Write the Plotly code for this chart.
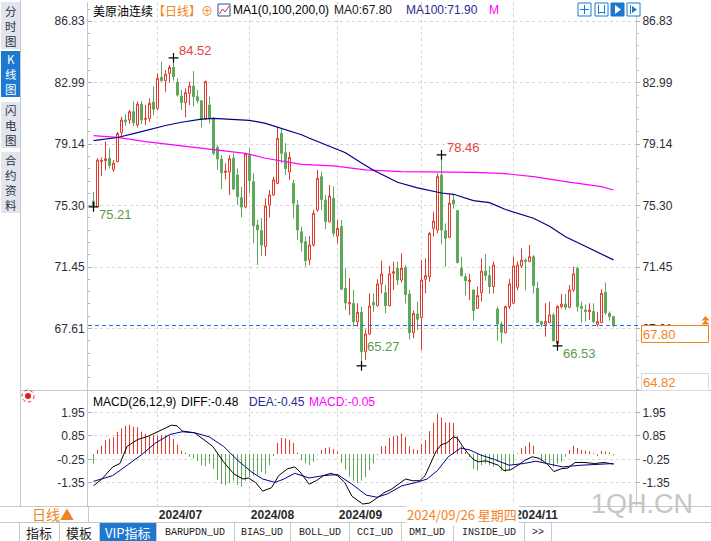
import plotly.graph_objects as go

W, H = 711, 541
def PX(x): return x / W
def PY(y): return 1 - y / H

# ---------------- data ----------------
opens = [75.58, 75.23, 78.05, 78.10, 78.25, 77.55, 78.04, 79.85, 80.64, 80.64,
         81.16, 80.33, 81.62, 80.68, 80.74, 81.77, 81.37, 83.31, 83.10, 83.56,
         83.93, 83.00, 82.14, 81.73, 82.31, 82.77, 82.10, 81.85, 80.74, 81.58,
         80.74, 78.93, 78.20, 77.37, 77.39, 78.25, 77.20, 75.80, 75.20, 78.45,
         76.79, 74.08, 73.73, 72.73, 75.33, 75.96, 76.68, 79.80, 78.60, 77.40,
         76.68, 75.33, 73.66, 73.04, 71.90, 72.83, 75.02, 77.10, 75.64, 74.29,
         75.75, 73.39, 73.98, 70.12, 69.15, 69.18, 68.04, 68.62, 66.16, 67.27,
         69.23, 69.04, 70.40, 69.85, 69.04, 71.06, 71.37, 70.64, 71.41, 69.77,
         67.35, 68.52, 68.29, 70.69, 70.85, 73.87, 73.77, 77.20, 73.73, 73.31,
         75.64, 74.98, 71.37, 70.85, 70.54, 70.02, 68.87, 69.85, 71.20, 70.92,
         70.23, 68.83, 67.89, 67.35, 68.98, 69.19, 70.19, 71.52, 71.89, 71.79,
         72.10, 70.12, 68.04, 67.87, 67.98, 68.46, 66.68, 68.98, 69.14, 68.94,
         70.02, 71.37, 68.98, 68.77, 68.67, 68.67, 67.87, 67.98, 69.87, 68.56,
         68.35]
highs = [76.16, 78.25, 78.30, 79.30, 78.87, 78.14, 79.90, 80.85, 81.00, 81.27,
         81.80, 81.80, 81.83, 81.58, 81.99, 82.73, 83.56, 84.29, 83.77, 84.08,
         84.52, 83.25, 82.52, 82.62, 83.04, 83.70, 82.52, 81.85, 83.10, 82.10,
         80.81, 79.08, 78.45, 77.93, 78.45, 78.56, 77.62, 76.47, 78.56, 78.87,
         77.31, 74.39, 74.50, 75.75, 76.27, 77.10, 80.20, 80.10, 79.20, 78.65,
         76.90, 75.64, 73.98, 73.35, 73.39, 75.02, 77.52, 77.41, 75.96, 76.58,
         76.48, 74.39, 74.39, 71.37, 70.75, 70.02, 69.18, 68.98, 67.56, 69.81,
         69.81, 70.69, 71.85, 70.33, 71.52, 71.79, 71.79, 72.31, 71.58, 70.02,
         68.73, 69.29, 71.89, 71.99, 73.66, 74.91, 77.31, 78.46, 74.18, 76.02,
         75.96, 75.02, 72.10, 71.06, 71.02, 70.02, 70.23, 71.99, 72.27, 71.52,
         71.79, 68.98, 68.04, 69.04, 70.71, 72.10, 71.80, 72.62, 72.00, 72.83,
         72.20, 70.54, 68.10, 69.19, 69.29, 68.60, 69.08, 69.77, 69.77, 70.33,
         71.48, 71.48, 69.29, 69.10, 69.19, 69.19, 68.65, 70.06, 70.48, 68.67,
         68.40]
lows = [75.21, 75.20, 77.15, 77.50, 77.60, 77.40, 78.00, 79.60, 80.27, 80.40,
        80.27, 80.18, 80.39, 80.33, 80.54, 80.95, 81.27, 83.04, 82.41, 82.98,
        83.10, 82.10, 81.27, 80.81, 81.58, 81.48, 81.68, 80.18, 80.64, 80.43,
        78.45, 77.52, 76.31, 76.93, 75.95, 76.27, 75.33, 74.56, 75.12, 76.06,
        72.93, 71.58, 72.14, 72.14, 74.56, 75.90, 76.64, 77.93, 77.20, 76.90,
        74.50, 73.14, 72.42, 71.48, 71.58, 72.73, 74.91, 75.02, 73.81, 74.23,
        73.35, 72.93, 70.02, 68.77, 68.45, 67.73, 67.73, 65.27, 65.65, 67.21,
        68.66, 68.98, 69.81, 68.56, 68.98, 70.02, 70.33, 70.48, 69.18, 66.93,
        67.00, 67.52, 66.27, 69.81, 70.54, 73.35, 73.56, 72.90, 71.48, 73.25,
        75.10, 71.68, 70.85, 69.67, 69.39, 68.10, 68.87, 69.29, 70.60, 69.77,
        69.81, 66.85, 66.68, 67.31, 68.83, 69.14, 70.00, 71.40, 70.00, 71.79,
        69.80, 68.00, 67.70, 67.10, 67.94, 66.79, 66.53, 68.87, 68.77, 68.87,
        69.90, 68.67, 67.98, 68.04, 68.14, 67.94, 67.73, 67.94, 68.46, 68.10,
        67.70]
closes = [75.29, 78.14, 78.12, 78.22, 77.80, 77.95, 79.80, 80.64, 80.52, 81.16,
          80.47, 81.64, 80.64, 80.74, 81.68, 81.31, 83.25, 83.10, 83.50, 83.93,
          83.35, 82.20, 81.73, 82.35, 82.77, 82.10, 81.85, 80.68, 83.04, 80.74,
          78.56, 78.20, 77.35, 77.45, 78.22, 76.33, 75.85, 75.20, 78.52, 76.85,
          74.04, 73.77, 72.83, 75.27, 75.96, 76.90, 79.50, 78.56, 77.60, 78.30,
          75.44, 73.77, 72.98, 71.85, 72.83, 74.81, 76.99, 75.68, 74.29, 75.89,
          73.56, 73.87, 70.06, 69.20, 69.23, 68.04, 68.62, 66.16, 67.27, 69.02,
          69.08, 70.40, 71.02, 69.04, 71.02, 71.16, 70.64, 71.37, 69.73, 67.35,
          68.56, 68.19, 70.64, 70.92, 73.56, 74.33, 77.10, 73.77, 73.25, 75.44,
          75.39, 71.73, 70.92, 70.60, 70.64, 68.73, 69.67, 71.20, 70.92, 70.23,
          71.58, 67.89, 67.37, 68.98, 70.40, 71.52, 71.58, 71.89, 71.79, 72.10,
          70.29, 68.00, 67.87, 68.04, 68.46, 66.85, 68.98, 69.14, 68.94, 70.02,
          71.02, 68.98, 68.87, 68.67, 68.77, 68.04, 68.04, 69.81, 68.60, 68.35,
          67.80]
idx = list(range(len(closes)))

ma100_idx = [0, 6, 11, 14, 18, 22, 27, 30, 35, 39, 43, 47, 52, 54, 58, 63, 67, 70,
             74, 76, 81, 87, 90, 95, 99, 103, 110, 114, 118, 124, 130]
ma100_val = [79.35, 79.55, 79.85, 80.06, 80.30, 80.50, 80.70, 80.75, 80.66, 80.62,
             80.43, 80.12, 79.72, 79.50, 79.08, 78.60, 77.95, 77.50, 77.00, 76.75,
             76.40, 76.08, 76.00, 75.60, 75.48, 75.05, 74.50, 74.00, 73.35, 72.62, 71.90]
ma200_idx = [0, 6, 13, 22, 30, 38, 43, 52, 60, 68, 77, 87, 95, 102, 110, 118, 127, 130]
ma200_val = [79.66, 79.56, 79.29, 79.02, 78.77, 78.56, 78.25, 77.87, 77.77, 77.52,
             77.41, 77.41, 77.37, 77.31, 77.10, 76.79, 76.48, 76.27]

diff_idx = [0, 2.1, 4.8, 6.6, 8.4, 11, 13.7, 16.4, 19.5, 20.9, 22.2, 25.3, 27.6, 29.8,
            32.5, 35.1, 37.4, 38.7, 40.5, 42.3, 44.5, 46.3, 48.5, 50.3, 51.7, 53.9,
            55.7, 57.5, 59.3, 61, 62.8, 64.6, 67.3, 69.1, 70.9, 72.6, 74.4, 76.2, 78,
            79.8, 81.6, 82.9, 84.25, 85.6, 86.9, 88.3, 90, 90.9, 92.3, 93.6, 95, 96.3,
            98.1, 99.9, 101.2, 102.6, 104.3, 106.1, 107.9, 109.7, 111.5, 113.3, 115.1,
            116.9, 118.6, 120.4, 122.6, 125.3, 127.6, 130]
diff_val = [-1.50, -1.18, -0.61, -0.45, 0.36, 0.68, 0.84, 1.08, 1.36, 1.33, 1.08, 1.00,
            0.68, 0.36, -0.37, -0.94, -1.18, -1.13, -1.34, -1.75, -1.59, -1.02, -0.70,
            -0.61, -0.86, -1.42, -1.26, -1.02, -0.91, -1.02, -1.34, -1.99, -2.36, -2.31,
            -2.07, -1.83, -1.67, -1.42, -1.18, -1.26, -1.26, -1.02, -0.45, 0.11, 0.44,
            0.52, 0.81, 0.76, 0.36, 0.03, -0.26, -0.37, -0.32, -0.45, -0.53, -0.78,
            -0.74, -0.53, -0.29, -0.13, -0.21, -0.45, -0.83, -0.70, -0.66, -0.40, -0.40,
            -0.45, -0.40, -0.48]
dea_idx = [0, 4.8, 8.4, 11.9, 15.5, 19.1, 22.2, 25.3, 28.9, 32.5, 36, 39.6, 42.3, 45.4,
           47.6, 50.3, 53.9, 57.5, 61, 64.6, 68.2, 70.9, 73.5, 77.1, 80.7, 83.4, 86,
           88.7, 91.8, 94.1, 96.8, 100.3, 103.9, 107.5, 110.6, 113.7, 117.3, 121.8,
           126.2, 130]
dea_val = [-1.29, -1.02, -0.53, -0.05, 0.52, 0.92, 1.05, 1.00, 0.81, 0.36, -0.29, -0.86,
           -1.18, -1.34, -1.18, -0.91, -1.13, -1.02, -0.97, -1.42, -1.94, -2.04, -1.88,
           -1.50, -1.34, -1.18, -0.78, -0.13, 0.28, 0.19, -0.05, -0.26, -0.53, -0.45,
           -0.34, -0.45, -0.61, -0.53, -0.49, -0.45]
macd_hist = [-0.45, 0.20, 0.39, 0.65, 0.71, 0.79, 1.05, 1.21, 1.33, 1.38,
             1.29, 1.26, 1.05, 0.95, 0.84, 0.89, 0.87, 0.89, 0.89, 0.87,
             0.71, 0.44, 0.16, 0.06, -0.13, -0.21, -0.32, -0.53, -0.58, -0.45,
             -0.70, -1.23, -1.42, -1.46, -1.38, -1.26, -1.46, -1.54, -1.26, -1.10,
             -1.02, -0.97, -0.86, -0.94, -0.53, -0.10, 0.52, 0.76, 0.73, 0.68,
             0.52, 0.06, -0.29, -0.42, -0.53, -0.37, -0.03, 0.19, 0.28, 0.32,
             0.23, 0.11, -0.42, -0.74, -1.07, -1.26, -1.38, -1.26, -1.10, -0.78,
             -0.45, -0.05, 0.36, 0.39, 0.76, 0.84, 0.87, 0.97, 0.81, 0.36,
             0.23, 0.19, 0.47, 0.65, 1.08, 1.46, 1.89, 1.73, 1.49, 1.49,
             1.46, 0.84, 0.36, 0.11, -0.13, -0.70, -0.78, -0.53, -0.45, -0.53,
             -0.61, -0.37, -0.78, -0.86, -0.78, -0.53, 0.03, 0.28, 0.36, 0.55,
             0.39, 0.02, -0.37, -0.42, -0.45, -0.61, -0.45, -0.37, -0.13, 0.19,
             0.39, 0.28, 0.19, 0.16, 0.11, 0.03, -0.10, 0.15, 0.11, 0.08,
             -0.05]

price_ticks = [86.83, 82.99, 79.14, 75.30, 71.45, 67.61]
macd_ticks = [1.95, 0.85, -0.25, -1.35]
month_idx = [16, 39, 61, 82, 105]
# the 2024/10 label is hidden under the cursor date label in the reference
month_labels = ["2024/07", "2024/08", "2024/09", "", "2024/11"]
cursor_label = "2024/09/26 星期四"
cursor_price = 64.82
extremes = [(0, "low"), (20, "high"), (67, "low"), (87, "high"), (116, "low")]
sidebar_items = ["分时图", "K线图", "闪电图", "合约资料"]
tab_items = ["指标", "模板", "VIP指标", "BARUPDN_UD", "BIAS_UD", "BOLL_UD", "CCI_UD",
             "DMI_UD", "INSIDE_UD", ">>"]

# ---------------- styles ----------------
RED = "#e2392f"
GREEN = "#5ea85a"
NAVY = "#000088"
MAG = "#ff00ff"
ORANGE = "#f0841e"
GRID = "#d6d6d6"
AXL = "#c4c8d0"
LAT = "Liberation Sans, Arial, sans-serif"
CJK = "Noto Sans CJK SC, Liberation Sans, sans-serif"

X_L, X_R = 88, 636
P_TOP, P_BOT = 2, 390
M_TOP, M_BOT = 390, 506
PPU = 16.0
P_REF_Y, P_REF_V = 21, 86.83
p_hi = P_REF_V + (P_REF_Y - P_TOP) / PPU
p_lo = P_REF_V - (P_BOT - P_REF_Y) / PPU
MPU = 21.2
M_ZERO = 454
m_hi = (M_ZERO - M_TOP) / MPU
m_lo = (M_ZERO - M_BOT) / MPU
CW = 4.0
x0 = 93.5
x_lo = (X_L - x0) / CW
x_hi = (X_R - x0) / CW

fig = go.Figure()

fig.add_trace(go.Candlestick(
    x=idx, open=opens, high=highs, low=lows, close=closes,
    increasing=dict(line=dict(color=RED, width=1), fillcolor="white"),
    decreasing=dict(line=dict(color=GREEN, width=1), fillcolor=GREEN),
    whiskerwidth=0, hoverinfo="skip", xaxis="x", yaxis="y"))
fig.add_trace(go.Scatter(x=ma200_idx, y=ma200_val, mode="lines",
                         line=dict(color=MAG, width=1.2), hoverinfo="skip", xaxis="x", yaxis="y"))
fig.add_trace(go.Scatter(x=ma100_idx, y=ma100_val, mode="lines",
                         line=dict(color=NAVY, width=1.2), hoverinfo="skip", xaxis="x", yaxis="y"))
ex_x = [i for i, k in extremes]
ex_y = [highs[i] if k == "high" else lows[i] for i, k in extremes]
fig.add_trace(go.Scatter(x=ex_x, y=ex_y, mode="markers",
                         marker=dict(symbol="cross-thin", size=7, line=dict(color="black", width=1.2)),
                         hoverinfo="skip", xaxis="x", yaxis="y"))
fig.add_trace(go.Scatter(x=[0], y=[None], mode="lines", hoverinfo="skip", xaxis="x", yaxis="y3"))

# MACD histogram as thin 1px sticks
def sticks(sign):
    xs, ys = [], []
    for i, v in zip(idx, macd_hist):
        if (v >= 0) == (sign > 0):
            xs += [i, i, None]
            ys += [0, v, None]
    return xs, ys
for sgn, col in ((1, RED), (-1, GREEN)):
    xs, ys = sticks(sgn)
    fig.add_trace(go.Scatter(x=xs, y=ys, mode="lines", line=dict(color=col, width=1),
                             hoverinfo="skip", xaxis="x2", yaxis="y2"))
fig.add_trace(go.Scatter(x=diff_idx, y=diff_val, mode="lines", line=dict(color="black", width=1),
                         hoverinfo="skip", xaxis="x2", yaxis="y2"))
fig.add_trace(go.Scatter(x=dea_idx, y=dea_val, mode="lines", line=dict(color=NAVY, width=1),
                         hoverinfo="skip", xaxis="x2", yaxis="y2"))
fig.add_trace(go.Scatter(x=[0], y=[None], mode="lines", hoverinfo="skip", xaxis="x2", yaxis="y4"))

tickfont = dict(family=LAT, size=12, color="#2a2e3a")
minor_p = dict(tickmode="linear", tick0=price_ticks[-1], dtick=(price_ticks[0] - price_ticks[1]) / 5,
               ticks="inside", ticklen=2, tickcolor="#a8adb8", showgrid=False)
common_y = dict(showgrid=True, gridcolor=GRID, griddash="dot", gridwidth=1, zeroline=False,
                showline=True, linecolor=AXL, ticks="inside", ticklen=4, tickcolor="#a8adb8",
                tickfont=tickfont, fixedrange=True)

fig.update_layout(
    width=W, height=H, margin=dict(l=0, r=0, t=0, b=0),
    paper_bgcolor="white", plot_bgcolor="white", showlegend=False, hovermode=False,
    boxgap=0.5, boxgroupgap=0,
    xaxis=dict(domain=[PX(X_L), PX(X_R)], range=[x_lo, x_hi], anchor="y",
               tickmode="array", tickvals=month_idx, showticklabels=False,
               showgrid=True, gridcolor=GRID, griddash="dot", zeroline=False,
               showline=False, ticks="", rangeslider=dict(visible=False)),
    xaxis2=dict(domain=[PX(X_L), PX(X_R)], range=[x_lo, x_hi], anchor="y2", matches="x",
                tickmode="array", tickvals=month_idx,
                ticktext=[("<b>%s</b>" % s) if s else "" for s in month_labels],
                showgrid=True, gridcolor=GRID, griddash="dot", zeroline=False,
                showline=False, ticks="", ticklabelshift=23,
                tickfont=dict(family=LAT, size=12, color="#2a2a2a")),
    yaxis=dict(domain=[PY(P_BOT), PY(P_TOP)], range=[p_lo, p_hi], anchor="x", side="left",
               tickmode="array", tickvals=price_ticks, ticktext=["%.2f" % v for v in price_ticks],
               minor=minor_p, **common_y),
    yaxis3=dict(range=[p_lo, p_hi], overlaying="y", anchor="x", side="right",
                tickmode="array", tickvals=price_ticks, ticktext=["%.2f" % v for v in price_ticks],
                showgrid=False, zeroline=False, showline=True, linecolor=AXL,
                ticks="outside", ticklen=3, tickcolor="#a8adb8", tickfont=tickfont,
                minor=dict(tickmode="linear", tick0=price_ticks[-1],
                           dtick=(price_ticks[0] - price_ticks[1]) / 5,
                           ticks="outside", ticklen=2, tickcolor="#c0c4cc")),
    yaxis2=dict(domain=[PY(M_BOT), PY(M_TOP)], range=[m_lo, m_hi], anchor="x2", side="left",
                tickmode="array", tickvals=macd_ticks, ticktext=["%.2f" % v for v in macd_ticks],
                **common_y),
    yaxis4=dict(range=[m_lo, m_hi], overlaying="y2", anchor="x2", side="right",
                tickmode="array", tickvals=macd_ticks, ticktext=["%.2f" % v for v in macd_ticks],
                showgrid=False, zeroline=False, showline=True, linecolor=AXL,
                ticks="outside", ticklen=3, tickcolor="#a8adb8", tickfont=tickfont),
)

shapes = []
ann = []

def rect(x0_, y0_, x1_, y1_, fill=None, line=None, lw=1):
    shapes.append(dict(type="rect", xref="paper", yref="paper",
                       x0=PX(x0_), x1=PX(x1_), y0=PY(y1_), y1=PY(y0_),
                       fillcolor=fill if fill else "rgba(0,0,0,0)",
                       line=dict(color=line if line else "rgba(0,0,0,0)", width=lw if line else 0),
                       layer="above"))

def hline(y, xa, xb, color=AXL, w=1):
    shapes.append(dict(type="line", xref="paper", yref="paper", x0=PX(xa), x1=PX(xb),
                       y0=PY(y), y1=PY(y), line=dict(color=color, width=w), layer="above"))

def vline(x, ya, yb, color=AXL, w=1):
    shapes.append(dict(type="line", xref="paper", yref="paper", x0=PX(x), x1=PX(x),
                       y0=PY(ya), y1=PY(yb), line=dict(color=color, width=w), layer="above"))

def text(x, y, s, color="#000", size=12, fam=LAT, anchor="left", **kw):
    ann.append(dict(xref="paper", yref="paper", x=PX(x), y=PY(y), text=s, showarrow=False,
                    xanchor=anchor, yanchor="middle", font=dict(family=fam, size=size, color=color),
                    **kw))

# close dashed line
last = closes[-1]
shapes.append(dict(type="line", xref="paper", yref="y", x0=PX(X_L), x1=PX(641), y0=last, y1=last,
                   line=dict(color="#1a73e8", width=1.2, dash="4px,3px"), layer="above"))

# frame lines
vline(20.5, 0, 506)
hline(390.5, 20, 711)
hline(506.5, 0, 711)
hline(522.5, 0, 711)
vline(88.5, 506, 522)

# sidebar
blocks = [(2, 49), (51, 97), (102, 148), (152, 213)]
for k, (name, (ya, yb)) in enumerate(zip(sidebar_items, blocks)):
    sel = (k == 1)
    rect(1, ya, 20, yb, fill="#1d78cf" if sel else "#e3e5ed")
    label = "<br>".join(name)
    text(10.5, (ya + yb) / 2, label, color="white" if sel else "#2e3240", size=11.5,
         fam=CJK, anchor="center")

# header
text(91, 10, "美原油连续<span style='color:%s'>【日线】⊕</span>" % ORANGE, size=12, fam=CJK)
rect(218, 4, 230, 16, fill="white", line="#1d4fb0")
shapes.append(dict(type="path", xref="paper", yref="paper",
                   path="M %f %f L %f %f L %f %f L %f %f" % (PX(219.5), PY(14), PX(222.5), PY(9),
                                                            PX(225), PY(12), PX(229), PY(6)),
                   line=dict(color="#e03030", width=1), layer="above"))
text(231, 10, "MA1(0,100,200,0)", color="#000")
text(332, 10, "MA0:%.2f" % closes[-1], color="#1a1a1a")
text(404, 10, "MA100:%.2f" % ma100_val[-1], color="#2a2a90")
text(487, 10, "M", color=MAG)

# top-right icons
for k, xa in enumerate([578, 595, 611, 627]):
    rect(xa, 3, xa + 13, 16, fill="#1d78cf" if k == 2 else "white", line="#1d78cf")
vline(584.5, 5, 14, color="#1d78cf"); hline(9.5, 580, 589, color="#1d78cf")
vline(598.5, 5, 14, color="#1d78cf"); vline(604.5, 5, 14, color="#1d78cf"); hline(12.5, 598, 605, color="#1d78cf")
shapes.append(dict(type="path", xref="paper", yref="paper",
                   path="M %f %f L %f %f L %f %f Z" % (PX(615), PY(5), PX(621), PY(9.5), PX(615), PY(14)),
                   fillcolor="white", line=dict(width=0), layer="above"))
vline(630.5, 5, 14, color="#1d78cf")
shapes.append(dict(type="path", xref="paper", yref="paper",
                   path="M %f %f L %f %f L %f %f Z" % (PX(632), PY(6), PX(637), PY(9.5), PX(632), PY(13)),
                   fillcolor="#1d78cf", line=dict(width=0), layer="above"))

# extreme labels
for (i, kind), v in zip(extremes, ex_y):
    if kind == "high":
        col, ys = "#e2453c", 7
    else:
        col, ys = "#5a9b4c", (19 if i == 67 else -8)
    ann.append(dict(xref="x", yref="y", x=i, y=v, text="%.2f" % v, showarrow=False,
                    xanchor="left", yanchor="middle", xshift=3, yshift=ys,
                    font=dict(family=LAT, size=13, color=col)))

# right side price boxes
ann.append(dict(xref="paper", yref="y", x=PX(641), y=last, text="%.2f" % last, showarrow=False,
                xanchor="left", yanchor="top", align="left", width=64, height=14,
                bgcolor="white", bordercolor=ORANGE, borderwidth=1, borderpad=1,
                font=dict(family=LAT, size=13, color=ORANGE)))
ann.append(dict(xref="paper", yref="y", x=PX(641), y=cursor_price, text="%.2f" % cursor_price,
                showarrow=False, xanchor="left", yanchor="top", align="left", width=64, height=14,
                bgcolor="white", bordercolor="#d8dbe2", borderwidth=1, borderpad=1,
                font=dict(family=LAT, size=13, color=ORANGE)))
for yt in (320.5, 324.5):
    shapes.append(dict(type="path", xref="paper", yref="paper",
                       path="M %f %f L %f %f L %f %f Z" % (PX(701.5), PY(yt), PX(705.5), PY(yt - 4.5),
                                                          PX(709.5), PY(yt)),
                       fillcolor=ORANGE, line=dict(width=0), layer="above"))

# MACD header
shapes.append(dict(type="circle", xref="paper", yref="paper", x0=PX(25), x1=PX(31), y0=PY(399), y1=PY(393),
                   fillcolor="#e02020", line=dict(width=0), layer="above"))
shapes.append(dict(type="circle", xref="paper", yref="paper", x0=PX(22), x1=PX(34), y0=PY(402), y1=PY(390),
                   line=dict(color="#e02020", width=1, dash="dot"), layer="above"))
text(91, 402, "MACD(26,12,9)", color="#000")
text(179, 402, "DIFF:%.2f" % diff_val[-1], color="#000")
text(247, 402, "DEA:%.2f" % dea_val[-1], color="#2a2a90")
text(307, 402, "MACD:%.2f" % macd_hist[-1], color=MAG)

# bottom strip
text(53, 514, "日线▲", color=ORANGE, size=14, fam=CJK, anchor="center")
text(462, 514, cursor_label, color=ORANGE, size=13, fam=CJK, anchor="center", bgcolor="white")
text(695, 504, "1QH.CN", color="#c6c6c6", size=27, fam=LAT, anchor="right")

# tabs
dividers = [19, 59, 99, 156, 234, 290, 349, 401, 453, 524, 551]
rect(99, 523, 156, 541, fill="#1d78cf")
for d in dividers:
    vline(d + 0.5, 523, 541, color="#c4c8d0")
for k, name in enumerate(tab_items):
    xc = (dividers[k] + dividers[k + 1]) / 2
    is_cjk = any(ord(c) > 127 for c in name)
    text(xc, 532.5, name, color="white" if k == 2 else "#222",
         size=13 if is_cjk else 10,
         fam=CJK if is_cjk else "Liberation Mono, monospace", anchor="center")

fig.update_layout(shapes=shapes, annotations=ann)
fig.write_html("out.html")
